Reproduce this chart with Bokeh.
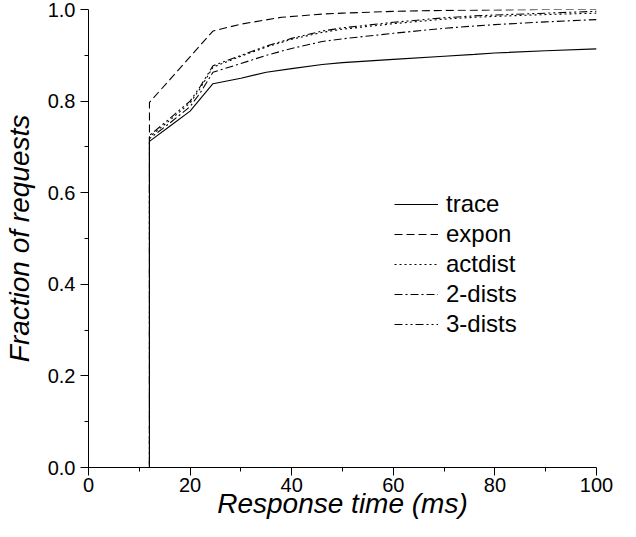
from bokeh.plotting import figure
from bokeh.models import Legend, LegendItem, Range1d, FixedTicker, CustomJSTickFormatter
from bokeh.embed import file_html
from bokeh.resources import INLINE

x_vals = [0, 12, 12, 16, 20, 22, 24.5, 30, 35, 40, 46, 50, 60, 70, 76, 80, 90, 100]
trace = [0, 0, 0.712, 0.745, 0.778, 0.805, 0.838, 0.850, 0.863, 0.871, 0.880, 0.884, 0.891, 0.898, 0.902, 0.905, 0.910, 0.914]
expon_x = [0, 12, 12, 24.5, 30, 38, 46, 50, 60, 70, 80, 90, 100]
expon = [0, 0, 0.797, 0.953, 0.968, 0.983, 0.990, 0.992, 0.996, 0.998, 0.999, 1.0, 1.0]
actdist = [0, 0, 0.722, 0.758, 0.796, 0.828, 0.874, 0.898, 0.918, 0.935, 0.950, 0.957, 0.969, 0.979, 0.983, 0.985, 0.989, 0.992]
dists2 = [0, 0, 0.718, 0.752, 0.788, 0.818, 0.863, 0.882, 0.900, 0.915, 0.930, 0.936, 0.948, 0.959, 0.964, 0.967, 0.973, 0.978]
dists3 = [0, 0, 0.725, 0.762, 0.800, 0.832, 0.877, 0.900, 0.920, 0.937, 0.953, 0.960, 0.972, 0.982, 0.986, 0.988, 0.992, 0.996]

names = ["trace", "expon", "actdist", "2-dists", "3-dists"]
dashes = ["solid", "8 4", "2 3", "8 3 2 3", "8 3 2 3 2 3"]

x_ticks = [0, 20, 40, 60, 80, 100]
x_minor = [10, 30, 50, 70, 90]
y_ticks = [0, 0.2, 0.4, 0.6, 0.8, 1.0]
y_minor = [0.1, 0.3, 0.5, 0.7, 0.9]

FONT = "Liberation Sans"

p = figure(width=620, height=521, output_backend="svg", toolbar_location=None,
           x_range=Range1d(0, 100), y_range=Range1d(0, 1.0),
           min_border_left=85, min_border_right=24, min_border_top=9, min_border_bottom=54)
p.outline_line_color = None
p.grid.visible = False

series = [(x_vals, trace), (expon_x, expon), (x_vals, actdist), (x_vals, dists2), (x_vals, dists3)]
items = []
for (xs, ys), name, dash in zip(series, names, dashes):
    r = p.line(xs, ys, line_color="black", line_width=1.1, line_dash=dash)
    items.append(LegendItem(label=name, renderers=[r]))

legend = Legend(items=items, location=(306, 128))
legend.border_line_color = None
legend.background_fill_alpha = 0
legend.label_text_font = FONT
legend.label_text_font_size = "24px"
legend.label_text_color = "black"
legend.glyph_width = 44
legend.glyph_height = 30
legend.label_height = 30
legend.spacing = 0
legend.label_standoff = 8
legend.padding = 0
legend.margin = 0
p.add_layout(legend, "center")

for ax in (p.xaxis[0], p.yaxis[0]):
    ax.axis_line_color = "black"
    ax.major_tick_line_color = "black"
    ax.minor_tick_line_color = "black"
    ax.major_tick_out = 8
    ax.major_tick_in = 0
    ax.minor_tick_out = 4
    ax.minor_tick_in = 0
    ax.major_label_text_font = FONT
    ax.major_label_text_font_size = "20px"
    ax.major_label_text_color = "black"
    ax.axis_label_text_font = FONT
    ax.axis_label_text_font_style = "italic"
    ax.axis_label_text_font_size = "28px"
    ax.axis_label_text_color = "black"

p.xaxis.major_label_standoff = 2
p.xaxis.axis_label_standoff = -7
p.yaxis.major_label_standoff = 5
p.yaxis.axis_label_standoff = 10

p.xaxis.ticker = FixedTicker(ticks=x_ticks, minor_ticks=x_minor)
p.yaxis.ticker = FixedTicker(ticks=y_ticks, minor_ticks=y_minor)
p.yaxis.formatter = CustomJSTickFormatter(code="return tick.toFixed(1);")
p.xaxis.axis_label = "Response time (ms)"
p.yaxis.axis_label = "Fraction of requests"

open("out.html", "w").write(file_html(p, INLINE))
